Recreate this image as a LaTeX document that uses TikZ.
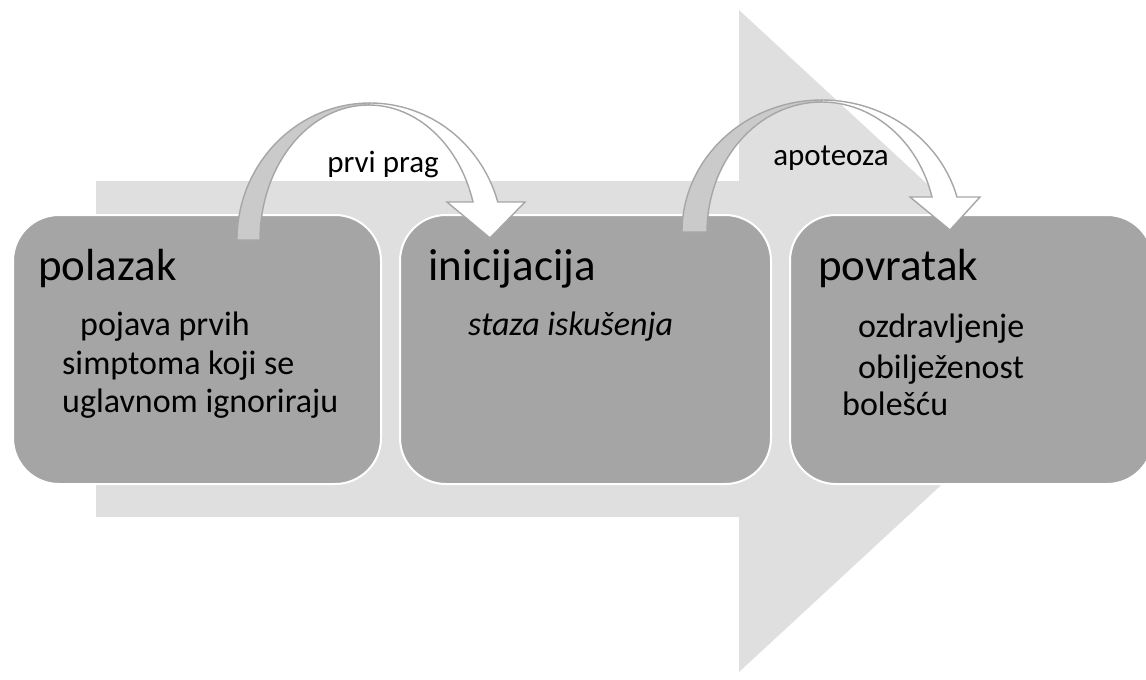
\documentclass[tikz,border=0pt]{standalone}
\usepackage{fontspec}
\setmainfont{Carlito}
\definecolor{bggray}{HTML}{DFDFDF}
\definecolor{boxgray}{HTML}{A5A5A5}
\definecolor{bandgray}{HTML}{CACACA}
\definecolor{edgegray}{HTML}{A6A6A6}
\begin{document}
\begin{tikzpicture}[x=1pt,y=-1pt,
  bgarrow/.style={fill=bggray,draw=none},
  stage/.style={fill=boxgray,draw=white,line width=2pt,rounded corners=46pt,
    minimum height=269pt,anchor=north west,inner sep=0pt},
  bandback/.style={fill=bandgray,draw=edgegray,line width=1.4pt,line join=round},
  bandfront/.style={fill=white,draw=edgegray,line width=1.4pt,line join=miter},
  ttl/.style={font=\fontsize{45}{50}\selectfont,anchor=base west,inner sep=0pt},
  bodytext/.style={font=\fontsize{34}{38}\selectfont,anchor=base west,inner sep=0pt},
  lbl/.style={font=\fontsize{31}{36}\selectfont,anchor=base,inner sep=0pt}]
\useasboundingbox (0,0) rectangle (1146,680);
% background arrow
\fill[bgarrow] (96,181) -- (739,181) -- (739,10) -- (1097,341) -- (739,672) -- (739,517) -- (96,517) -- cycle;
% stages
\node[stage,minimum width=368pt] (b1) at (12,214) {};
\node[stage,minimum width=371pt] (b2) at (399,214) {};
\node[stage,minimum width=363pt] (b3) at (789,214) {};
% curved arrow 1
\draw[bandback] (237,240) arc[start angle=180,end angle=270,x radius=133,y radius=137]
  -- (368.7,105) arc[start angle=270,end angle=180,x radius=108.7,y radius=135] -- cycle;
\draw[bandfront] (370,103) arc[start angle=270,end angle=343.9,x radius=133,y radius=137]
  -- (525,202) -- (490,238) -- (447,202) -- (473,202)
  arc[start angle=343.65,end angle=270,x radius=108.7,y radius=135] -- cycle;
% curved arrow 2
\draw[bandback] (682,232) arc[start angle=180,end angle=270,x radius=140,y radius=132]
  -- (821.6,102) arc[start angle=270,end angle=180,x radius=114.6,y radius=130] -- cycle;
\draw[bandfront] (822,100) arc[start angle=270,end angle=344.62,x radius=140,y radius=132]
  -- (980,197) -- (950,230) -- (910,197) -- (932,197)
  arc[start angle=344.38,end angle=270,x radius=114.6,y radius=130] -- cycle;
% labels
\node[lbl] (l1) at (383,172) {prvi prag};
\node[lbl] (l2) at (831,165) {apoteoza};
% texts
\node[ttl] (t1) at (38,280) {polazak};
\node[bodytext] (p1) at (80,335) {pojava prvih};
\node[bodytext] (p2) at (62,374) {simptoma koji se};
\node[bodytext] (p3) at (62,412) {uglavnom ignoriraju};
\node[ttl] (t2) at (428,280) {inicijacija};
\node[bodytext,font=\fontsize{34}{38}\selectfont\itshape] (i1) at (468,335) {staza iskušenja};
\node[ttl] (t3) at (818,280) {povratak};
\node[bodytext] (r1) at (858,337) {ozdravljenje};
\node[bodytext] (r2) at (858,378) {obilježenost};
\node[bodytext] (r3) at (842,415) {bolešću};
\end{tikzpicture}
\end{document}
